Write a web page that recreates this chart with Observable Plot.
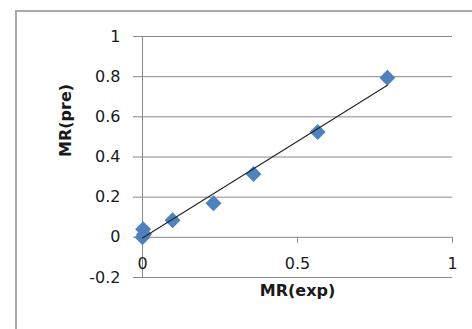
<!DOCTYPE html>
<html>
<head>
<meta charset="utf-8">
<script src="https://cdn.jsdelivr.net/npm/d3@7"></script>
<script src="https://cdn.jsdelivr.net/npm/@observablehq/plot@0.6"></script>
<style>
  html, body { margin: 0; padding: 0; background: #fff; overflow: hidden; width: 472px; height: 329px; }
  #wrap { position: relative; width: 472px; height: 329px; }
  #border { position: absolute; left: 15px; top: 10px; width: 600px; height: 500px; border: 2px solid #a9a9a9; box-sizing: border-box; pointer-events: none; }
  #chart { position: absolute; left: 0; top: 0; }
</style>
</head>
<body>
<div id="wrap">
  <div id="border"></div>
  <div id="chart"></div>
</div>
<script>
const mrExp = [0, 0.002, 0.005, 0.097, 0.229, 0.358, 0.565, 0.79];
const mrPre = [0, 0.04, 0.015, 0.085, 0.17, 0.315, 0.525, 0.795];
const yTicks = [-0.2, 0, 0.2, 0.4, 0.6, 0.8, 1];
const xTicks = [0, 0.5, 1];
const xTickMarks = [0.5, 1];
const xTitle = "MR(exp)";
const yTitle = "MR(pre)";

const points = mrExp.map((x, i) => ({x, y: mrPre[i]}));
const fmt = d => String(+d.toFixed(1));
const grid = "#888888";
const ink = "#1a1a1a";

const chart = Plot.plot({
  width: 472,
  height: 329,
  marginLeft: 142,
  marginRight: 20,
  marginTop: 36,
  marginBottom: 52,
  style: {fontFamily: "DejaVu Sans", fontSize: "16px", background: "transparent"},
  x: {domain: [0, 1]},
  y: {domain: [-0.2, 1]},
  marks: [
    Plot.gridY(yTicks, {stroke: grid, strokeOpacity: 1}),
    Plot.axisY(yTicks, {tickSize: 9, tickPadding: 13, tickFormat: fmt, stroke: grid, fill: ink, label: null, fontSize: 16}),
    Plot.axisX([], {label: null, tickSize: 0}),
    Plot.ruleX([0], {stroke: grid}),
    Plot.ruleX(xTickMarks, {x: d => d, y1: 0, y2: -0.03, stroke: grid}),
    Plot.text(xTicks, {x: d => d, y: 0, dy: 27, text: d => fmt(d), fill: ink, fontSize: 16}),
    Plot.dot(points, {x: "x", y: "y", symbol: "diamond2", r: 7.2, fill: "#4f81bd", stroke: "none"}),
    Plot.linearRegressionY(points, {x: "x", y: "y", ci: 0, stroke: "#222", strokeWidth: 1.1}),
    Plot.text([xTitle], {frameAnchor: "bottom", dy: 18, text: d => d, fontWeight: "bold", fontSize: 16, fill: ink}),
    Plot.text([yTitle], {frameAnchor: "left", dx: -77, rotate: -90, text: d => d, fontWeight: "bold", fontSize: 16, fill: ink})
  ]
});
document.getElementById("chart").appendChild(chart);
</script>
</body>
</html>
